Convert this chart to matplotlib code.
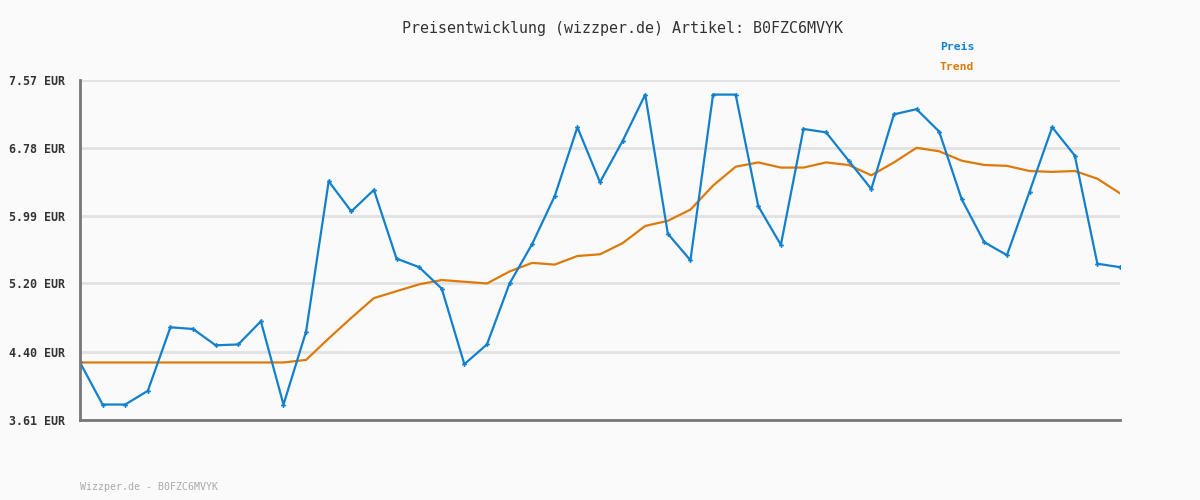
import matplotlib
matplotlib.use("Agg")
import matplotlib.pyplot as plt

preis = [4.28, 3.79, 3.79, 3.95, 4.69, 4.67, 4.48, 4.49, 4.76, 3.79,
         4.64, 6.39, 6.04, 6.29, 5.49, 5.39, 5.14, 4.26, 4.49, 5.20,
         5.66, 6.22, 7.02, 6.38, 6.86, 7.40, 5.78, 5.47, 7.40, 7.40,
         6.10, 5.65, 7.00, 6.96, 6.63, 6.30, 7.17, 7.23, 6.97, 6.18,
         5.68, 5.53, 6.27, 7.02, 6.69, 5.43, 5.39]
trend = [4.28, 4.28, 4.28, 4.28, 4.28, 4.28, 4.28, 4.28, 4.28, 4.28,
         4.31, 4.56, 4.80, 5.03, 5.11, 5.19, 5.24, 5.22, 5.20, 5.34,
         5.44, 5.42, 5.52, 5.54, 5.67, 5.87, 5.93, 6.06, 6.34, 6.56,
         6.61, 6.55, 6.55, 6.61, 6.58, 6.46, 6.61, 6.78, 6.74, 6.63,
         6.58, 6.57, 6.51, 6.50, 6.51, 6.42, 6.25]
yticks = [3.61, 4.40, 5.20, 5.99, 6.78, 7.57]
ytick_labels = ["3.61 EUR", "4.40 EUR", "5.20 EUR", "5.99 EUR", "6.78 EUR", "7.57 EUR"]

title = "Preisentwicklung (wizzper.de) Artikel: B0FZC6MVYK"
footer = "Wizzper.de - B0FZC6MVYK"
legend_labels = ["Preis", "Trend"]

blue = "#1280cc"
orange = "#dd7a0a"
bg = "#fafafa"
mono = "DejaVu Sans Mono"

fig = plt.figure(figsize=(12, 5), dpi=100, facecolor=bg)
ax = fig.add_axes([80/1200, 1-420/500, 1040/1200, 340/500], facecolor=bg)

x = list(range(len(preis)))
ax.plot(x, trend, color=orange, lw=1.6, zorder=3)
ax.plot(x, preis, color=blue, lw=1.6, marker="P", markersize=3.5,
        markeredgewidth=0, zorder=4)

ax.set_xlim(0, len(preis) - 1)
ax.set_ylim(yticks[0], yticks[-1])
ax.set_yticks(yticks)
ax.set_yticklabels(ytick_labels, fontfamily=mono, fontweight="bold",
                   fontsize=8.4, color="#333333")
ax.set_xticks([])
ax.tick_params(axis="y", length=0, pad=10.5)
ax.grid(axis="y", color="#e2e2e2", lw=2, zorder=0)
for s in ["top", "right"]:
    ax.spines[s].set_visible(False)
for s in ["left", "bottom"]:
    ax.spines[s].set_color("#777777")
    ax.spines[s].set_linewidth(2)
    ax.spines[s].set_zorder(5)

fig.text(623/1200, 1-28/500, title, ha="center", va="center",
         fontfamily=mono, fontsize=10.8, color="#333333")
fig.text(940/1200, 1-47/500, legend_labels[0], ha="left", va="center",
         fontfamily=mono, fontweight="bold", fontsize=8.2, color=blue)
fig.text(940/1200, 1-67/500, legend_labels[1], ha="left", va="center",
         fontfamily=mono, fontweight="bold", fontsize=8.2, color=orange)
fig.text(80/1200, 1-487/500, footer, ha="left", va="center",
         fontfamily=mono, fontsize=7.2, color="#aaaaaa")

fig.savefig("out.png", dpi=100, facecolor=bg)
